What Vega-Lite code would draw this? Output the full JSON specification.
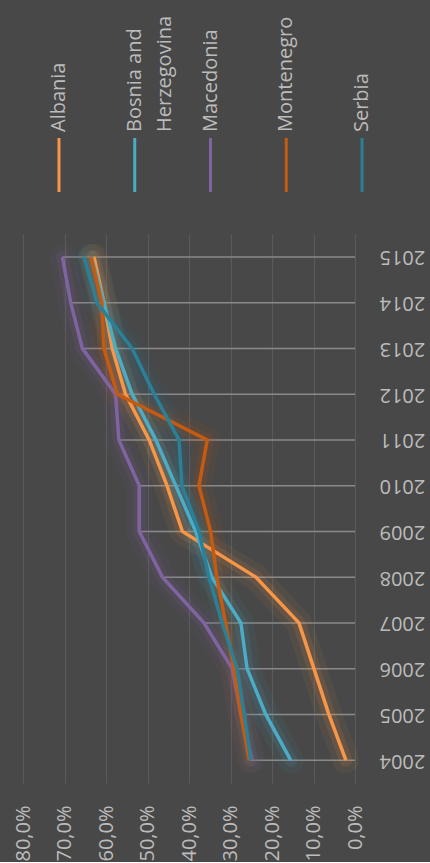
{
  "$schema": "https://vega.github.io/schema/vega-lite/v6.json",
  "background": "#484848",
  "padding": {"left": 13, "top": 15, "right": 5, "bottom": 0},
  "spacing": 40,
  "config": {"view": {"stroke": null}, "font": "Open Sans"},
  "resolve": {"scale": {"x": "independent", "y": "independent", "color": "shared"}},
  "datasets": {
    "legend": [
      {"country": "Albania", "line1": "Albania"},
      {"country": "Bosnia and Herzegovina", "line1": "Bosnia and", "line2": "Herzegovina"},
      {"country": "Macedonia", "line1": "Macedonia"},
      {"country": "Montenegro", "line1": "Montenegro"},
      {"country": "Serbia", "line1": "Serbia"}
    ],
    "rates": [
      {"year": "2004", "country": "Albania", "value": 0.022},
      {"year": "2005", "country": "Albania", "value": 0.063},
      {"year": "2006", "country": "Albania", "value": 0.099},
      {"year": "2007", "country": "Albania", "value": 0.135},
      {"year": "2008", "country": "Albania", "value": 0.239},
      {"year": "2009", "country": "Albania", "value": 0.416},
      {"year": "2010", "country": "Albania", "value": 0.453},
      {"year": "2011", "country": "Albania", "value": 0.496},
      {"year": "2012", "country": "Albania", "value": 0.553},
      {"year": "2013", "country": "Albania", "value": 0.585},
      {"year": "2014", "country": "Albania", "value": 0.605},
      {"year": "2015", "country": "Albania", "value": 0.629},
      {"year": "2004", "country": "Bosnia and Herzegovina", "value": 0.155},
      {"year": "2005", "country": "Bosnia and Herzegovina", "value": 0.215},
      {"year": "2006", "country": "Bosnia and Herzegovina", "value": 0.260},
      {"year": "2007", "country": "Bosnia and Herzegovina", "value": 0.275},
      {"year": "2008", "country": "Bosnia and Herzegovina", "value": 0.345},
      {"year": "2009", "country": "Bosnia and Herzegovina", "value": 0.384},
      {"year": "2010", "country": "Bosnia and Herzegovina", "value": 0.432},
      {"year": "2011", "country": "Bosnia and Herzegovina", "value": 0.480},
      {"year": "2012", "country": "Bosnia and Herzegovina", "value": 0.537},
      {"year": "2013", "country": "Bosnia and Herzegovina", "value": 0.577},
      {"year": "2014", "country": "Bosnia and Herzegovina", "value": 0.605},
      {"year": "2015", "country": "Bosnia and Herzegovina", "value": 0.635},
      {"year": "2004", "country": "Macedonia", "value": 0.248},
      {"year": "2005", "country": "Macedonia", "value": 0.275},
      {"year": "2006", "country": "Macedonia", "value": 0.296},
      {"year": "2007", "country": "Macedonia", "value": 0.364},
      {"year": "2008", "country": "Macedonia", "value": 0.464},
      {"year": "2009", "country": "Macedonia", "value": 0.520},
      {"year": "2010", "country": "Macedonia", "value": 0.520},
      {"year": "2011", "country": "Macedonia", "value": 0.569},
      {"year": "2012", "country": "Macedonia", "value": 0.577},
      {"year": "2013", "country": "Macedonia", "value": 0.657},
      {"year": "2014", "country": "Macedonia", "value": 0.685},
      {"year": "2015", "country": "Macedonia", "value": 0.705},
      {"year": "2004", "country": "Montenegro", "value": 0.255},
      {"year": "2005", "country": "Montenegro", "value": 0.275},
      {"year": "2006", "country": "Montenegro", "value": 0.292},
      {"year": "2007", "country": "Montenegro", "value": 0.312},
      {"year": "2008", "country": "Montenegro", "value": 0.333},
      {"year": "2009", "country": "Montenegro", "value": 0.348},
      {"year": "2010", "country": "Montenegro", "value": 0.376},
      {"year": "2011", "country": "Montenegro", "value": 0.356},
      {"year": "2012", "country": "Montenegro", "value": 0.573},
      {"year": "2013", "country": "Montenegro", "value": 0.605},
      {"year": "2014", "country": "Montenegro", "value": 0.610},
      {"year": "2015", "country": "Montenegro", "value": 0.636},
      {"year": "2004", "country": "Serbia", "value": 0.251},
      {"year": "2005", "country": "Serbia", "value": 0.267},
      {"year": "2006", "country": "Serbia", "value": 0.284},
      {"year": "2007", "country": "Serbia", "value": 0.320},
      {"year": "2008", "country": "Serbia", "value": 0.352},
      {"year": "2009", "country": "Serbia", "value": 0.376},
      {"year": "2010", "country": "Serbia", "value": 0.417},
      {"year": "2011", "country": "Serbia", "value": 0.424},
      {"year": "2012", "country": "Serbia", "value": 0.484},
      {"year": "2013", "country": "Serbia", "value": 0.537},
      {"year": "2014", "country": "Serbia", "value": 0.622},
      {"year": "2015", "country": "Serbia", "value": 0.653}
    ]
  },
  "vconcat": [
    {
      "width": 375,
      "height": 54,
      "data": {"name": "legend"},
      "encoding": {
        "x": {
          "field": "country",
          "type": "nominal",
          "scale": {"type": "point", "padding": 0.475, "domain": ["Albania", "Bosnia and Herzegovina", "Macedonia", "Montenegro", "Serbia"]},
          "axis": null
        }
      },
      "layer": [
        {
          "mark": {"type": "rule", "strokeWidth": 3},
          "encoding": {
            "color": {
              "field": "country",
              "type": "nominal",
              "scale": {"domain": ["Albania", "Bosnia and Herzegovina", "Macedonia", "Montenegro", "Serbia"], "range": ["#F79646", "#4BACC6", "#8064A2", "#C55A11", "#2B7F96"]},
              "legend": null
            }
          }
        },
        {
          "mark": {"type": "text", "angle": 270, "align": "left", "baseline": "middle", "dx": 33, "fontSize": 20, "color": "#bcbcbc"},
          "encoding": {"text": {"field": "line1", "type": "nominal"}}
        },
        {
          "transform": [{"filter": "datum.line2 != null"}],
          "mark": {"type": "text", "angle": 270, "align": "left", "baseline": "middle", "dx": 33, "dy": 30, "fontSize": 20, "color": "#bcbcbc"},
          "encoding": {"text": {"field": "line2", "type": "nominal"}}
        }
      ]
    },
    {
      "width": 332,
      "height": 549,
      "data": {"name": "rates"},
      "encoding": {
        "y": {
          "field": "year",
          "type": "ordinal",
          "sort": "descending",
          "scale": {"type": "point", "padding": 0.5},
          "axis": {"orient": "right", "title": null, "domain": false, "ticks": false, "grid": false, "labelAngle": 180, "labelAlign": "right", "labelBaseline": "middle", "labelPadding": 24, "labelFontSize": 20, "labelColor": "#bcbcbc", "labelFont": "Open Sans"}
        }
      },
      "layer": [
        {
          "mark": {"type": "rule", "color": "#8a8a8a", "strokeWidth": 1.5},
          "encoding": {
            "x": {
              "aggregate": "max",
              "field": "value",
              "type": "quantitative",
              "scale": {"domain": [0, 0.8], "reverse": true, "nice": false},
              "axis": {
                "orient": "bottom", "title": null,
                "values": [0, 0.1, 0.2, 0.3, 0.4, 0.5, 0.6, 0.7, 0.8],
                "labelExpr": "replace(format(datum.value, '.1%'), '.', ',')",
                "labelAngle": 270, "labelAlign": "right", "labelBaseline": "middle",
                "labelPadding": 22, "labelFlush": false, "labelOverlap": false, "labelBound": false,
                "domain": false, "ticks": false, "grid": true, "gridColor": "#5a5a5a", "gridWidth": 1.2,
                "labelFontSize": 20, "labelColor": "#bcbcbc", "labelFont": "Open Sans"
              }
            },
            "x2": {"datum": 0}
          }
        },
        {
          "mark": {"type": "line", "strokeWidth": 26, "opacity": 0.07, "strokeCap": "round", "strokeJoin": "round"},
          "encoding": {
            "x": {"field": "value", "type": "quantitative"},
            "order": {"field": "year", "type": "ordinal"},
            "color": {"field": "country", "type": "nominal", "legend": null}
          }
        },
        {
          "mark": {"type": "line", "strokeWidth": 13, "opacity": 0.12, "strokeCap": "round", "strokeJoin": "round"},
          "encoding": {
            "x": {"field": "value", "type": "quantitative"},
            "order": {"field": "year", "type": "ordinal"},
            "color": {"field": "country", "type": "nominal", "legend": null}
          }
        },
        {
          "mark": {"type": "line", "strokeWidth": 3.5, "strokeJoin": "miter"},
          "encoding": {
            "x": {"field": "value", "type": "quantitative"},
            "order": {"field": "year", "type": "ordinal"},
            "color": {"field": "country", "type": "nominal", "legend": null}
          }
        }
      ]
    }
  ]
}
